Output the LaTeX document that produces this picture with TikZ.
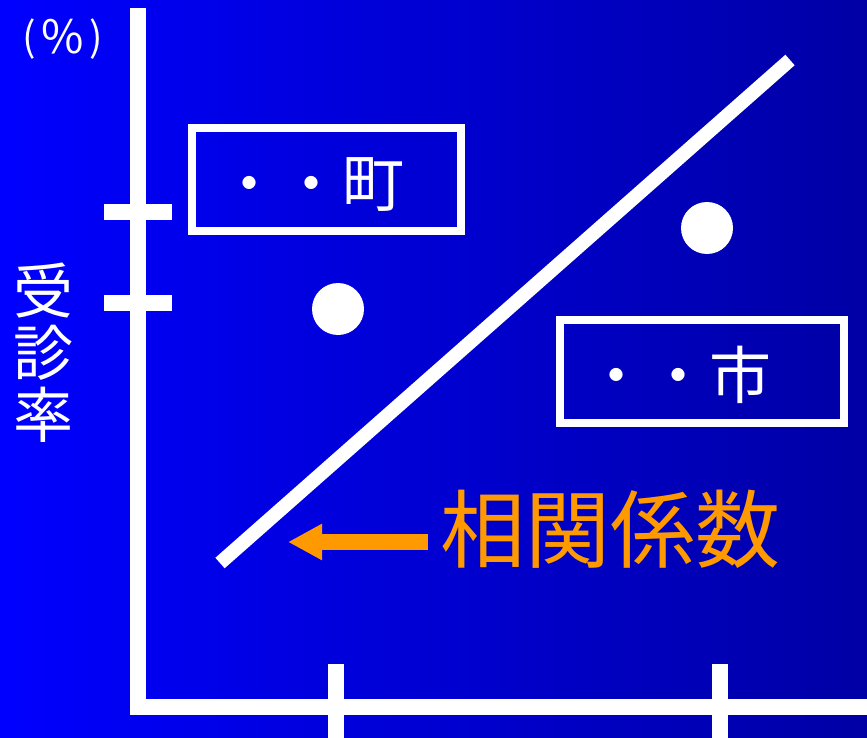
\documentclass[tikz,border=0pt]{standalone}
\usepackage{fontspec}
\newfontfamily\jp{Noto Sans CJK JP}
\usetikzlibrary{arrows.meta}
\definecolor{bgL}{RGB}{0,0,255}
\definecolor{bgM}{RGB}{0,0,232}
\definecolor{bgR}{RGB}{0,0,165}
\definecolor{orng}{RGB}{255,153,0}
\begin{document}
\begin{tikzpicture}[x=1pt,y=-1pt,
  axis/.style={white,line width=16pt,line join=miter},
  tickline/.style={white,line width=16pt},
  framebox/.style={draw=white,line width=8pt,inner sep=0pt},
  wdot/.style={circle,fill=white,inner sep=0pt,minimum size=52pt},
  lbl/.style={text=white,inner sep=0pt,font=\jp\fontsize{62}{62}\selectfont},
  arrowline/.style={orng,line width=16pt,-{Triangle[length=34pt,width=34pt]}}]
\useasboundingbox (0,0) rectangle (867,738);
\shade[left color=bgL,middle color=bgM,right color=bgR] (0,0) rectangle (867,738);
% axes
\coordinate (ytop) at (138,8);
\coordinate (orig) at (138,707);
\coordinate (xend) at (867,707);
\draw[axis] (ytop) -- (orig) -- (xend);
% ticks
\coordinate (ty1a) at (104,212); \coordinate (ty1b) at (172,212);
\coordinate (ty2a) at (104,303); \coordinate (ty2b) at (172,303);
\coordinate (tx1a) at (336,664); \coordinate (tx1b) at (336,738);
\coordinate (tx2a) at (720,664); \coordinate (tx2b) at (720,738);
\draw[tickline] (ty1a) -- (ty1b);
\draw[tickline] (ty2a) -- (ty2b);
\draw[tickline] (tx1a) -- (tx1b);
\draw[tickline] (tx2a) -- (tx2b);
% diagonal
\coordinate (d1) at (220,563);
\coordinate (d2) at (790,60);
\draw[white,line width=14pt] (d1) -- (d2);
% boxes
\node[framebox,minimum width=269.5pt,minimum height=103pt] (box1) at (326.25,179.5) {};
\node[lbl] (t1) at (311,185) {・・町};
\node[framebox,minimum width=284.5pt,minimum height=103.5pt] (box2) at (701.75,371.25) {};
\node[lbl] (t2) at (678,375) {・・市};
% points
\node[wdot] (p1) at (338,309) {};
\node[wdot] (p2) at (707,228) {};
% arrow and label
\coordinate (a1) at (428,542);
\coordinate (a2) at (288,542);
\draw[arrowline] (a1) -- (a2);
\node[text=orng,inner sep=0pt,font=\jp\fontsize{85}{85}\selectfont] (corr) at (610.5,529.5) {相関係数};
% axis labels
\node[text=white,inner sep=0pt,align=center,font=\jp\fontsize{60}{62}\selectfont] (ylab) at (43.5,353) {受\\診\\率};
\node[text=white,inner sep=0pt,font=\jp\fontsize{40}{40}\selectfont] (unit) at (63,39) {(\kern5pt\raisebox{-2pt}{\fontsize{46}{46}\selectfont\%}\kern6pt)};
\end{tikzpicture}
\end{document}
